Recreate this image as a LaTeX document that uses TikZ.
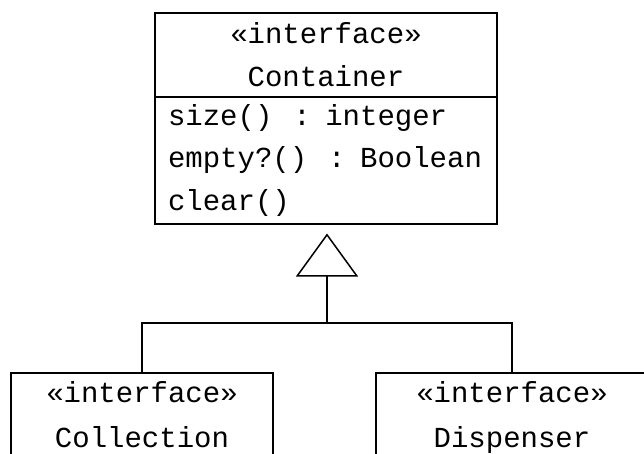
\documentclass[tikz,border=0pt]{standalone}
\usepackage{fontspec}
\setmonofont{Liberation Mono}
\usetikzlibrary{arrows.meta}
\newcommand\umlspacing{\fontdimen2\font=21pt\fontdimen3\font=0pt\fontdimen4\font=0pt\spaceskip=21pt\relax}
\begin{document}
\begin{tikzpicture}
    [   x=1pt,y=-1pt,
        umlbox/.style={draw=black,line width=1.5pt,rectangle,inner xsep=0pt,inner ysep=9pt,
            font=\ttfamily\fontsize{29}{#1}\selectfont},
        umlbox/.default=43,
        inherit/.style={line width=1.5pt},
    ]
        \useasboundingbox (0,0) rectangle (644,453);
        \clip (0,0) rectangle (644,453);
        % parent interface
        \node[umlbox,minimum width=342pt,minimum height=84pt,anchor=north,align=center] (head) at (326,12) {«interface»\\Container};
        \node[umlbox=42.5,inner ysep=0pt,minimum width=342pt,minimum height=127pt,anchor=north,align=left,text width=316pt] (ops) at (326,96) {\umlspacing size() : integer\\empty?() : Boolean\\clear()};
        % child interfaces
        \node[umlbox=45,minimum width=262pt,anchor=north,align=center,text depth=114pt] (coll) at (142,372) {«interface»\\Collection};
        \node[umlbox=45,minimum width=272pt,anchor=north,align=center,text depth=114pt] (disp) at (512,372) {«interface»\\Dispenser};
        \coordinate (fork) at (327,323);
        \draw[inherit] (coll.north) |- (fork) -| (disp.north);
        \draw[inherit,-{Triangle[open,length=43pt,width=62pt,line width=1.5pt]},shorten >=9pt] (fork) -- (ops.south -| fork);
    \end{tikzpicture}
\end{document}
